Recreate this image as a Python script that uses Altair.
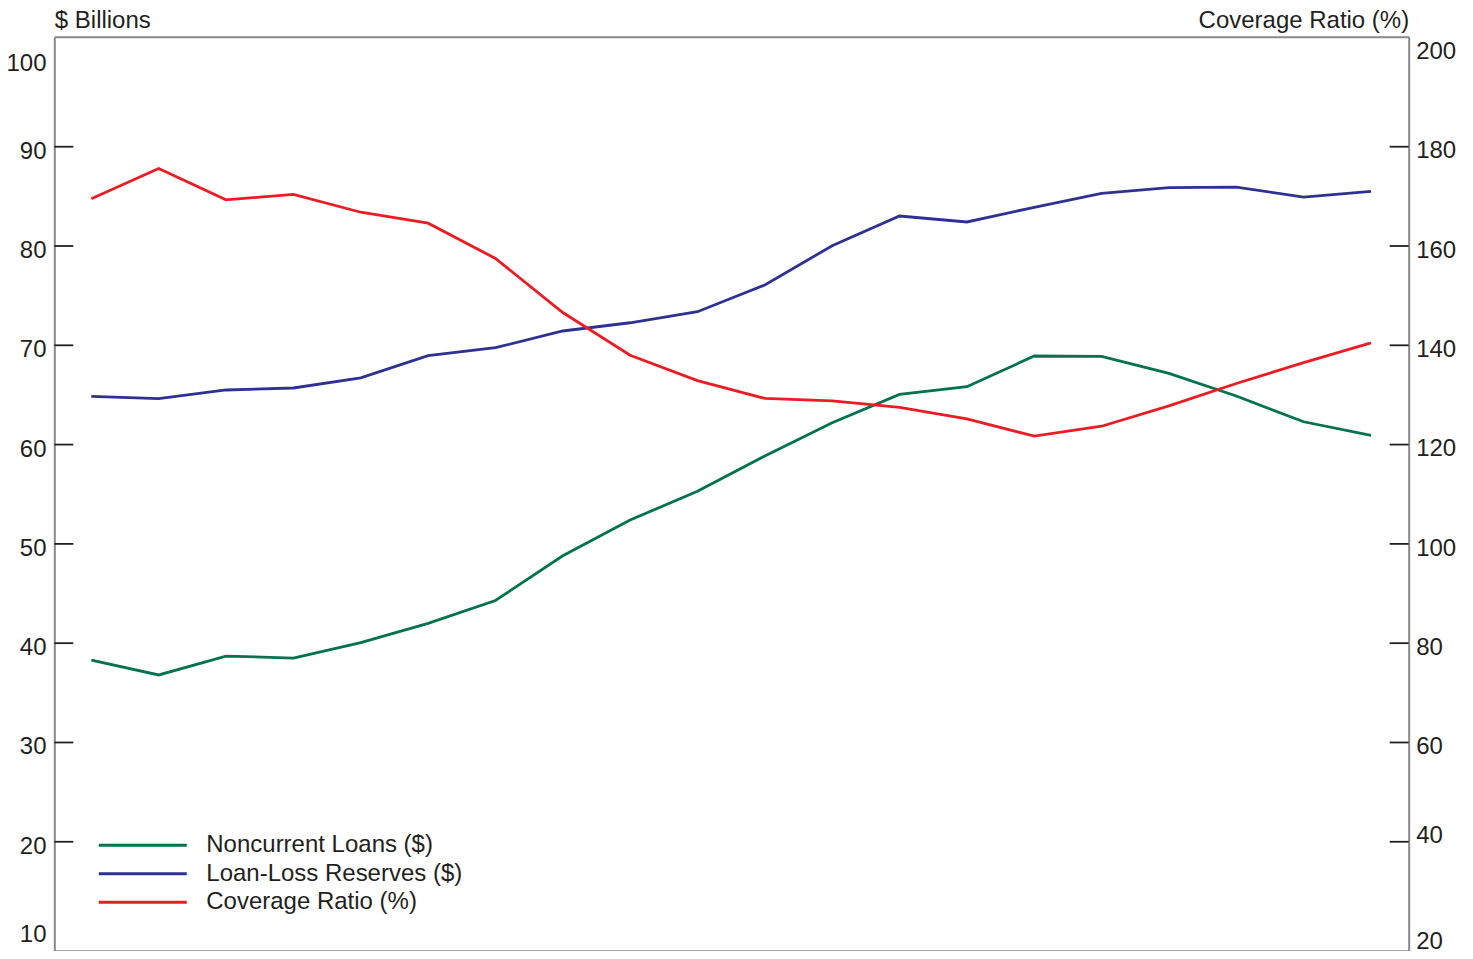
import altair as alt
import pandas as pd

# ---- data ----
quarters = list(range(20))
noncurrent = [38.3, 36.8, 38.7, 38.5, 40.05, 42.0, 44.3, 48.8, 52.4, 55.3,
              58.85, 62.2, 65.06, 65.83, 68.92, 68.89, 67.18, 64.89, 62.3, 60.93]
reserves = [64.86, 64.62, 65.5, 65.7, 66.73, 68.95, 69.76, 71.44, 72.27, 73.38,
            76.07, 80.03, 83.02, 82.42, 83.9, 85.31, 85.87, 85.94, 84.93, 85.51]
coverage = [169.5, 175.6, 169.3, 170.4, 166.8, 164.6, 157.5, 146.6, 138.0, 132.9,
            129.3, 128.8, 127.5, 125.2, 121.7, 123.7, 127.8, 132.3, 136.5, 140.5]

series_names = ["Noncurrent Loans ($)", "Loan-Loss Reserves ($)", "Coverage Ratio (%)"]
series_colors = ["#00734A", "#2E3192", "#ED1C24"]

left_label_values = [10, 20, 30, 40, 50, 60, 70, 80, 90, 100]
left_tick_values = [20, 30, 40, 50, 60, 70, 80, 90]
right_label_values = [20, 40, 60, 80, 100, 120, 140, 160, 180, 200]
right_tick_values = [40, 60, 80, 100, 120, 140, 160, 180]

# ---- layout ----
W = 1354.4
H = 914
FONT = "Liberation Sans"
TXT = "#231F20"
FS = 24
FRAME = "#8a8a8a"

left_df = pd.DataFrame({
    "q": quarters * 2,
    "value": noncurrent + reserves,
    "series": [series_names[0]] * 20 + [series_names[1]] * 20,
})
right_df = pd.DataFrame({"q": quarters, "ratio": coverage, "series": [series_names[2]] * 20})

x_scale = alt.Scale(domain=[-0.55, 19.56], nice=False, zero=False)
left_scale = alt.Scale(domain=[9.03, 101.08], nice=False, zero=False)
right_scale = alt.Scale(domain=[18.06, 202.16], nice=False, zero=False)


def frame_axis(orient):
    return alt.Axis(orient=orient, domain=True, domainColor=FRAME, domainWidth=2,
                    labels=False, ticks=False, grid=False, title=None)


color = alt.Color(
    "series:N",
    scale=alt.Scale(domain=series_names, range=series_colors),
    sort=series_names,
    legend=alt.Legend(
        orient="none", legendX=76, legendY=796, title=None,
        symbolType="M-4,0H4", symbolSize=484, symbolStrokeWidth=3,
        symbolFillColor="transparent",
        labelFont=FONT, labelFontSize=FS, labelColor=TXT, labelOffset=51,
        labelLimit=0, rowPadding=3.5, padding=0, direction="vertical",
    ),
)


def make_axis(orient, values, title, offsets, default_off, padding):
    cond = [{"test": f"datum.value == {k}", "value": v} for k, v in offsets.items()]
    return alt.Axis(
        orient=orient, values=values, ticks=False, tickSize=0,
        domain=True, domainColor=FRAME, domainWidth=2, grid=False,
        labelFont=FONT, labelFontSize=FS, labelColor=TXT, labelPadding=padding,
        labelBaseline="middle", labelOverlap=False, labelFlush=False,
        labelOffset={"condition": cond, "value": default_off},
        title=title, titleAngle=0, titleX=0, titleY=-9.6,
        titleAlign="left" if orient == "left" else "right",
        titleBaseline="alphabetic", titleFont=FONT, titleFontSize=FS,
        titleFontWeight="normal", titleColor=TXT,
    )


left_axis = make_axis("left", left_label_values, "$ Billions", {100: 16.4, 10: -6.5}, 4.5, 8.3)
right_axis = make_axis("right", right_label_values, "Coverage Ratio (%)", {40: -6.7, 20: 0.3}, 4.2, 7)

left_lines = alt.Chart(left_df).mark_line(strokeWidth=2.8).encode(
    x=alt.X("q:Q", scale=x_scale, axis=frame_axis("bottom")),
    y=alt.Y("value:Q", scale=left_scale, axis=left_axis),
    color=color,
    detail="series:N",
)
left_ticks = alt.Chart(pd.DataFrame({"value": left_tick_values})).mark_rule(
    color=TXT, strokeWidth=1.8
).encode(
    y=alt.Y("value:Q", scale=left_scale, axis=left_axis),
    x=alt.value(0), x2=alt.value(19),
)

right_line = alt.Chart(right_df).mark_line(strokeWidth=2.8).encode(
    x=alt.X("q:Q", scale=x_scale, axis=frame_axis("top")),
    y=alt.Y("ratio:Q", scale=right_scale, axis=right_axis),
    color=color,
)
right_ticks = alt.Chart(pd.DataFrame({"ratio": right_tick_values})).mark_rule(
    color=TXT, strokeWidth=1.8
).encode(
    y=alt.Y("ratio:Q", scale=right_scale, axis=right_axis),
    x=alt.value(W - 19), x2=alt.value(W),
)

chart = alt.layer(
    alt.layer(left_ticks, left_lines),
    alt.layer(right_ticks, right_line),
).resolve_scale(y="independent").resolve_axis(x="independent").properties(
    width=W, height=H,
    autosize=alt.AutoSizeParams(type="none"),
    padding={"left": 46.3, "top": 28.7, "right": 50, "bottom": 0},
).configure_view(stroke=FRAME, strokeWidth=2, strokeOpacity=1).configure(background="white")

chart.save("out.html", embed_options={"renderer": "svg", "actions": False})
